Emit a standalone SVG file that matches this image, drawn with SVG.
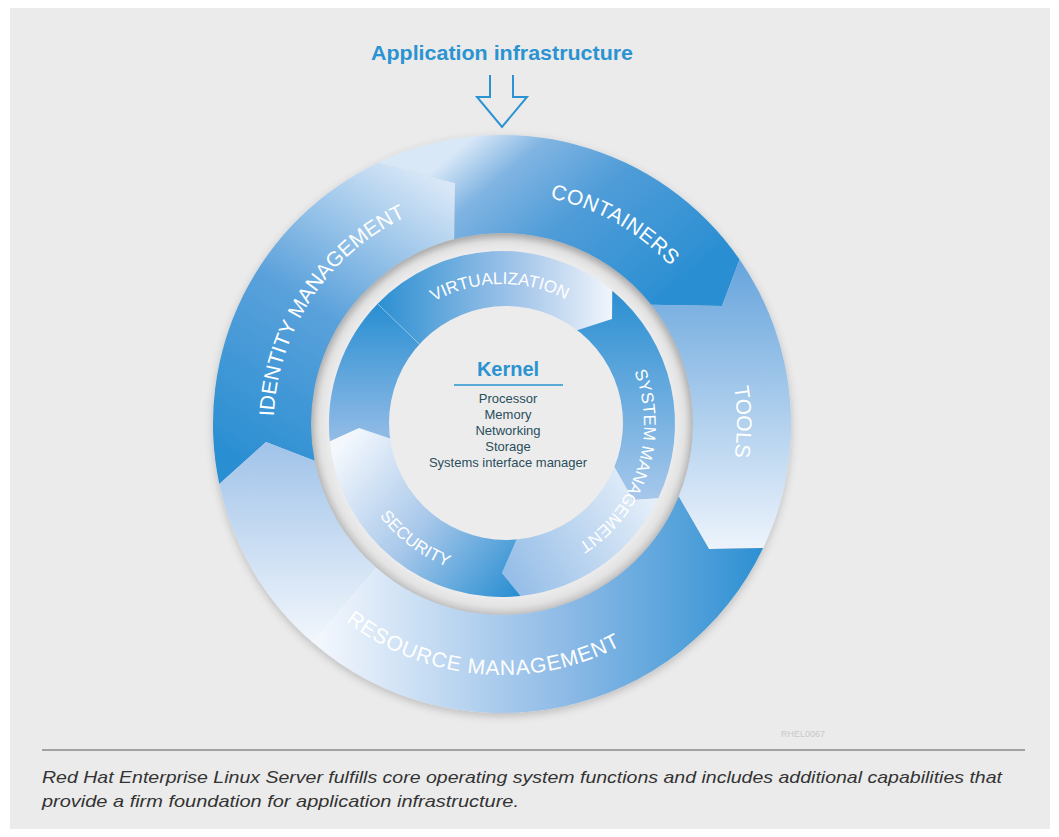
<svg xmlns="http://www.w3.org/2000/svg" width="1059" height="837" viewBox="0 0 1059 837">
<style>
.lbl{font-family:"Liberation Sans",Arial,sans-serif;fill:#ffffff;font-size:21px}
.ilbl{font-family:"Liberation Sans",Arial,sans-serif;fill:#ffffff;font-size:17px}
.klist{font-family:"Liberation Sans",Arial,sans-serif;fill:#2a4e5c;font-size:13px;text-anchor:middle}
</style>
<defs>
<filter id="shadow" x="-20%" y="-20%" width="140%" height="140%">
<feDropShadow dx="0" dy="3" stdDeviation="4" flood-color="#000" flood-opacity="0.2"/>
</filter>
<radialGradient id="gGap" gradientUnits="userSpaceOnUse" cx="503" cy="423" r="192">
<stop offset="0" stop-color="#ececec"/><stop offset="0.9" stop-color="#ececec"/><stop offset="0.95" stop-color="#e3e3e3"/><stop offset="1" stop-color="#c6c6c6"/>
</radialGradient>
<linearGradient id="gIdent" gradientUnits="userSpaceOnUse" x1="245" y1="465" x2="430" y2="175">
<stop offset="0" stop-color="#2a8fd2"/><stop offset="0.5" stop-color="#5aa1db"/><stop offset="1" stop-color="#d8e7f7"/>
</linearGradient>
<linearGradient id="gCont" gradientUnits="userSpaceOnUse" x1="480" y1="130" x2="640" y2="320">
<stop offset="0" stop-color="#d9e8f7"/><stop offset="0.2" stop-color="#80b4e2"/><stop offset="0.5" stop-color="#4f9cd8"/><stop offset="1" stop-color="#2a8fd2"/>
</linearGradient>
<linearGradient id="gTools" gradientUnits="userSpaceOnUse" x1="0" y1="265" x2="0" y2="550">
<stop offset="0" stop-color="#69a6dd"/><stop offset="1" stop-color="#eef4fc"/>
</linearGradient>
<linearGradient id="gRes" gradientUnits="userSpaceOnUse" x1="770" y1="0" x2="320" y2="0">
<stop offset="0" stop-color="#2a8fd2"/><stop offset="0.45" stop-color="#8dbae6"/><stop offset="1" stop-color="#f3f7fd"/>
</linearGradient>
<linearGradient id="gResL" gradientUnits="userSpaceOnUse" x1="0" y1="450" x2="0" y2="640">
<stop offset="0" stop-color="#a4c5ea"/><stop offset="1" stop-color="#f1f6fc"/>
</linearGradient>
<linearGradient id="gVirt" gradientUnits="userSpaceOnUse" x1="380" y1="0" x2="615" y2="0">
<stop offset="0" stop-color="#2d90d2"/><stop offset="0.6" stop-color="#a5c6ea"/><stop offset="1" stop-color="#f2f6fc"/>
</linearGradient>
<linearGradient id="gSM1" gradientUnits="userSpaceOnUse" x1="0" y1="290" x2="0" y2="500">
<stop offset="0" stop-color="#2a8fd2"/><stop offset="1" stop-color="#a8c8eb"/>
</linearGradient>
<linearGradient id="gSM2" gradientUnits="userSpaceOnUse" x1="650" y1="495" x2="505" y2="580">
<stop offset="0" stop-color="#e4eef9"/><stop offset="1" stop-color="#93bce7"/>
</linearGradient>
<linearGradient id="gSec" gradientUnits="userSpaceOnUse" x1="340" y1="445" x2="520" y2="590">
<stop offset="0" stop-color="#f4f8fd"/><stop offset="0.5" stop-color="#a7c7ea"/><stop offset="1" stop-color="#2a8fd2"/>
</linearGradient>
<linearGradient id="gLeft" gradientUnits="userSpaceOnUse" x1="0" y1="305" x2="0" y2="440">
<stop offset="0" stop-color="#2a8fd2"/><stop offset="1" stop-color="#94bce7"/>
</linearGradient>
<path id="pCont" d="M301.9,309.3 A231,231 0 0 1 704.1,536.7"/>
<path id="pIdent" d="M375.5,615.6 A231,231 0 0 1 630.5,230.4"/>
<path id="pTools" d="M501,188 A235,235 0 0 1 505,658"/>
<path id="pRes" d="M249,400.8 A255,255 0 0 0 757,445.2"/>
<path id="pVirt" d="M363,425.4 A140,140 0 0 1 643,420.6"/>
<path id="pSM" d="M546.9,287.9 A142,142 0 0 1 459.1,558.1"/>
<path id="pSec" d="M380.8,330.9 A153,153 0 0 0 625.2,515.1"/>
</defs>

<rect x="0" y="0" width="1059" height="837" fill="#ffffff"/>
<rect x="10" y="8" width="1040" height="821" fill="#ebebeb"/>

<text x="502" y="60" text-anchor="middle" font-family="Liberation Sans, Arial, sans-serif" font-weight="bold" font-size="21" fill="#2b93d1" textLength="262" lengthAdjust="spacingAndGlyphs">Application infrastructure</text>

<g id="connectors">
<path d="M490,75 L490,97 L477,97 L502,127 L527,97 L513,97 L513,75" fill="none" stroke="#2b93d1" stroke-width="2" stroke-linejoin="miter"/>
</g>

<g transform="translate(-1,1)">
<circle cx="503" cy="423" r="192" fill="url(#gGap)"/>

<g id="outer-ring" filter="url(#shadow)">
<g id="identity-management">
<path d="M220.3,483.1 A289,289 0 0 1 379.9,161.5 L456,182 L455.2,238.1 A191,191 0 0 0 315.6,459.8 L267,441 Z" fill="url(#gIdent)"/>
</g>
<g id="containers">
<path d="M379.9,161.5 A289,289 0 0 1 740.6,258.5 L723,305 L652.3,303.8 A191,191 0 0 0 455.2,238.1 L456,182 Z" fill="url(#gCont)"/>
</g>
<g id="tools">
<path d="M740.6,258.5 A289,289 0 0 1 764.1,547 L710,548 L679.7,495.5 A191,191 0 0 0 652.3,303.8 L723,305 Z" fill="url(#gTools)"/>
</g>
<g id="resource-management">
<path d="M764.1,547 A289,289 0 0 1 313.4,641.1 L377.7,567.1 A191,191 0 0 0 679.7,495.5 L710,548 Z" fill="url(#gRes)"/>
<path d="M313.4,641.1 A289,289 0 0 1 220.3,483.1 L267,441 L315.6,459.8 A191,191 0 0 0 377.7,567.1 Z" fill="url(#gResL)"/>
<line x1="313.4" y1="641.1" x2="377.7" y2="567.1" stroke="#ffffff" stroke-opacity="0.5" stroke-width="0.8"/>
</g>
</g>

<g id="inner-ring">
<g id="virtualization">
<path d="M378.6,302.8 A173,173 0 0 1 613.3,289.7 L613,318 L568,332.5 A112,112 0 0 0 422.4,345.2 Z" fill="url(#gVirt)"/>
</g>
<g id="system-management">
<path d="M613.3,289.7 A173,173 0 0 1 659.3,497.2 L634,499 L609.4,455.5 A112,112 0 0 0 568,332.5 L613,318 Z" fill="url(#gSM1)"/>
<path d="M659.3,497.2 A173,173 0 0 1 521.7,595 L503,572 L519.8,533.6 A112,112 0 0 0 609.4,455.5 L634,499 Z" fill="url(#gSM2)"/>
</g>
<g id="security">
<path d="M521.7,595 A173,173 0 0 1 330.8,440.2 L360,427 L392,437.8 A112,112 0 0 0 519.8,533.6 L503,572 Z" fill="url(#gSec)"/>
</g>
<g id="inner-left">
<path d="M330.8,440.2 A173,173 0 0 1 378.6,302.8 L422.4,345.2 A112,112 0 0 0 392,437.8 L360,427 Z" fill="url(#gLeft)"/>
<line x1="378.6" y1="302.8" x2="422.4" y2="345.2" stroke="#ffffff" stroke-opacity="0.35" stroke-width="0.8"/>
</g>
</g>

<g id="labels">
<text class="lbl" letter-spacing="0.5"><textPath href="#pCont" startOffset="50%" text-anchor="middle">CONTAINERS</textPath></text>
<text class="lbl"><textPath href="#pIdent" startOffset="50%" text-anchor="middle">IDENTITY MANAGEMENT</textPath></text>
<text class="lbl"><textPath href="#pTools" startOffset="50%" text-anchor="middle">TOOLS</textPath></text>
<text class="lbl" letter-spacing="0.9"><textPath href="#pRes" startOffset="50%" text-anchor="middle">RESOURCE MANAGEMENT</textPath></text>
<text class="ilbl"><textPath href="#pVirt" startOffset="50%" text-anchor="middle">VIRTUALIZATION</textPath></text>
<text class="ilbl"><textPath href="#pSM" startOffset="50%" text-anchor="middle">SYSTEM MANAGEMENT</textPath></text>
<text class="ilbl"><textPath href="#pSec" startOffset="50%" text-anchor="middle">SECURITY</textPath></text>
</g>
</g>

<g id="kernel">
<circle cx="506" cy="423" r="117" fill="#ececec"/>
<text x="508" y="376" text-anchor="middle" font-family="Liberation Sans, Arial, sans-serif" font-weight="bold" font-size="20" fill="#2b93d1">Kernel</text>
<line x1="454" y1="385" x2="563" y2="385" stroke="#2b93d1" stroke-width="1.5"/>
<text class="klist" x="508" y="403">Processor</text>
<text class="klist" x="508" y="419">Memory</text>
<text class="klist" x="508" y="435">Networking</text>
<text class="klist" x="508" y="451">Storage</text>
<text class="klist" x="508" y="467">Systems interface manager</text>
</g>

<text x="781" y="737" font-family="Liberation Sans, Arial, sans-serif" font-size="9" fill="#c9c9c9">RHEL0067</text>
<line x1="42" y1="750" x2="1025" y2="750" stroke="#8a8a8a" stroke-width="1.5"/>
<g font-family="Liberation Sans, Arial, sans-serif" font-style="italic" font-size="16.5" fill="#333333">
<text x="42" y="783" textLength="960" lengthAdjust="spacingAndGlyphs">Red Hat Enterprise Linux Server fulfills core operating system functions and includes additional capabilities that</text>
<text x="42" y="807" textLength="477" lengthAdjust="spacingAndGlyphs">provide a firm foundation for application infrastructure.</text>
</g>
</svg>
